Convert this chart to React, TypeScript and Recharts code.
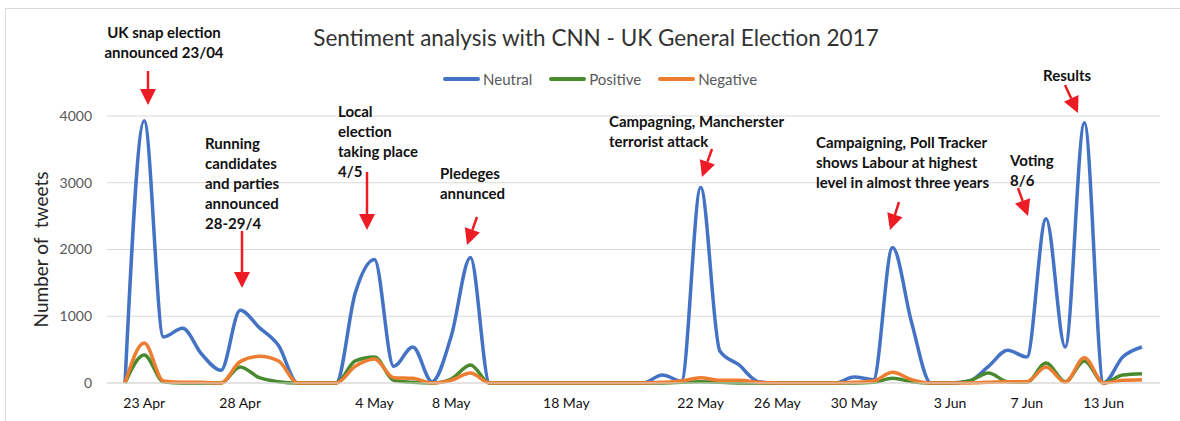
import React from "react";
import { LineChart, Line, XAxis, YAxis, CartesianGrid } from "recharts";

document.body.style.margin = "0";

// one value per category slot (54 slots, only some carry a date label)
const neutral = [
  0, 3930, 690, 820, 430, 190, 1090, 830, 560, 0,
  0, 0, 1350, 1850, 250, 540, 20, 700, 1880, 0,
  0, 0, 0, 0, 0, 0, 0, 0, 120, 30,
  2930, 480, 270, 20, 0, 0, 0, 0, 90, 50,
  2030, 900, 0, 0, 30, 250, 490, 390, 2460, 540,
  3900, 0, 390, 540,
];
const positive = [
  0, 420, 20, 0, 0, 0, 240, 80, 20, 0,
  0, 0, 330, 390, 40, 10, 0, 60, 270, 0,
  0, 0, 0, 0, 0, 0, 0, 0, 0, 10,
  20, 10, 0, 0, 0, 0, 0, 0, 0, 10,
  70, 20, 0, 0, 30, 150, 20, 10, 300, 20,
  330, 0, 120, 140,
];
const negative = [
  0, 600, 30, 10, 10, 0, 320, 400, 330, 0,
  0, 0, 250, 360, 80, 70, 0, 40, 150, 0,
  0, 0, 0, 0, 0, 0, 0, 0, 10, 30,
  80, 40, 40, 10, 0, 0, 0, 0, 10, 30,
  160, 50, 0, 0, 0, 10, 20, 20, 240, 10,
  380, 0, 40, 50,
];

const tickIndex = [1, 6, 13, 17, 23, 30, 34, 38, 43, 47, 51];
const tickLabels = ["23 Apr", "28 Apr", "4 May", "8 May", "18 May", "22 May", "26 May", "30 May", "3 Jun", "7 Jun", "13 Jun"];

const yTicks = [0, 1000, 2000, 3000, 4000];

const seriesNames = ["Neutral", "Positive", "Negative"];
const seriesColors = ["#4472C4", "#4A8A2E", "#ED7D31"];

const data = neutral.map((v, i) => ({
  i,
  Neutral: v,
  Positive: positive[i],
  Negative: negative[i],
}));

const FONT = "Lato, 'Open Sans', sans-serif";
const RED = "#ED1C24";

// annotation texts and arrows (page pixel positions)
const notes = [
  { left: 89, top: 22, width: 150, align: "center", lines: ["UK snap election", "announced 23/04"] },
  { left: 205, top: 133, width: 120, align: "left", lines: ["Running", "candidates", "and parties", "announced", "28-29/4"] },
  { left: 338, top: 101, width: 120, align: "left", lines: ["Local", "election", "taking place", "4/5"] },
  { left: 440, top: 163, width: 120, align: "left", lines: ["Pledeges", "annunced"] },
  { left: 609, top: 111, width: 220, align: "left", lines: ["Campagning, Mancherster", "terrorist attack"] },
  { left: 816, top: 132, width: 220, align: "left", lines: ["Campaigning, Poll Tracker", "shows Labour at highest", "level in almost three years"] },
  { left: 1010, top: 150, width: 80, align: "left", lines: ["Voting", "8/6"] },
  { left: 1043, top: 65, width: 80, align: "left", lines: ["Results"] },
];

const arrows = [
  [148, 71, 148, 105],
  [242, 231, 242, 288],
  [367, 172, 367, 230],
  [477, 217, 467, 245],
  [712, 149, 702, 177],
  [899, 202, 890, 230],
  [1018, 188, 1028, 216],
  [1065, 85, 1078, 113],
];

function Arrow({ a }: { a: number[] }) {
  const [x1, y1, x2, y2] = a;
  const dx = x2 - x1;
  const dy = y2 - y1;
  const len = Math.sqrt(dx * dx + dy * dy);
  const ux = dx / len;
  const uy = dy / len;
  const headLen = 16;
  const half = 8;
  const bx = x2 - ux * headLen;
  const by = y2 - uy * headLen;
  const p1 = `${bx - uy * half},${by + ux * half}`;
  const p2 = `${bx + uy * half},${by - ux * half}`;
  return (
    <g>
      <line x1={x1} y1={y1} x2={bx} y2={by} stroke={RED} strokeWidth={2.5} />
      <polygon points={`${x2},${y2} ${p1} ${p2}`} fill={RED} />
    </g>
  );
}

export default function App() {
  return (
    <div style={{ position: "relative", width: 1180, height: 421, background: "#fff", overflow: "hidden", fontFamily: FONT }}>
      <div style={{ position: "absolute", left: 5, top: 8, width: 1190, height: 440, border: "1px solid #d9d9d9", boxSizing: "border-box" }} />
      <div style={{ position: "absolute", left: 0, top: 0 }}>
        <LineChart width={1180} height={421} data={data} margin={{ top: 116, right: 20, bottom: 0, left: 0 }}>
          <CartesianGrid vertical={false} stroke="#d9d9d9" strokeWidth={1} />
          <XAxis
            dataKey="i"
            type="number"
            domain={[-0.94, 53.94]}
            ticks={tickIndex}
            tickFormatter={(v: number) => tickLabels[tickIndex.indexOf(v)] ?? ""}
            tickLine={false}
            axisLine={{ stroke: "#d9d9d9" }}
            tickSize={0}
            tickMargin={15}
            height={38}
            tick={{ fill: "#111", fontSize: 14, fontFamily: FONT }}
            interval={0}
          />
          <YAxis
            domain={[0, 4000]}
            ticks={yTicks}
            width={107}
            tickLine={false}
            axisLine={false}
            tickSize={0}
            tickMargin={15}
            tick={{ fill: "#595959", fontSize: 14, fontFamily: FONT }}
            label={{ value: "Number of\u00a0 tweets", angle: -90, position: "center", dx: -12, fill: "#262626", fontSize: 19, fontFamily: FONT }}
          />
          {seriesNames.map((name, k) => (
            <Line
              key={name}
              type="monotone"
              dataKey={name}
              stroke={seriesColors[k]}
              strokeWidth={3.5}
              dot={false}
              isAnimationActive={false}
            />
          ))}
        </LineChart>
      </div>

      <div style={{ position: "absolute", left: 0, width: 1192, top: 24, textAlign: "center", fontSize: 22.5, color: "#333", lineHeight: "28px" }}>
        Sentiment analysis with CNN - UK General Election 2017
      </div>

      <div style={{ position: "absolute", left: 443, top: 70, display: "flex", alignItems: "center", fontSize: 15, color: "#595959" }}>
        {seriesNames.map((name, k) => (
          <div key={name} style={{ display: "flex", alignItems: "center", marginRight: 17 }}>
            <div style={{ width: 37, height: 4, borderRadius: 2, background: seriesColors[k], marginRight: 3 }} />
            <span>{name}</span>
          </div>
        ))}
      </div>

      {notes.map((n, k) => (
        <div
          key={k}
          style={{
            position: "absolute",
            left: n.left,
            top: n.top,
            width: n.width,
            textAlign: n.align as "left" | "center",
            fontSize: 15,
            fontWeight: 700,
            lineHeight: "20px",
            color: "#111",
            whiteSpace: "nowrap",
          }}
        >
          {n.lines.map((l, j) => (
            <div key={j}>{l}</div>
          ))}
        </div>
      ))}

      <svg width={1180} height={421} style={{ position: "absolute", left: 0, top: 0, pointerEvents: "none" }}>
        {arrows.map((a, k) => (
          <Arrow key={k} a={a} />
        ))}
      </svg>
    </div>
  );
}
